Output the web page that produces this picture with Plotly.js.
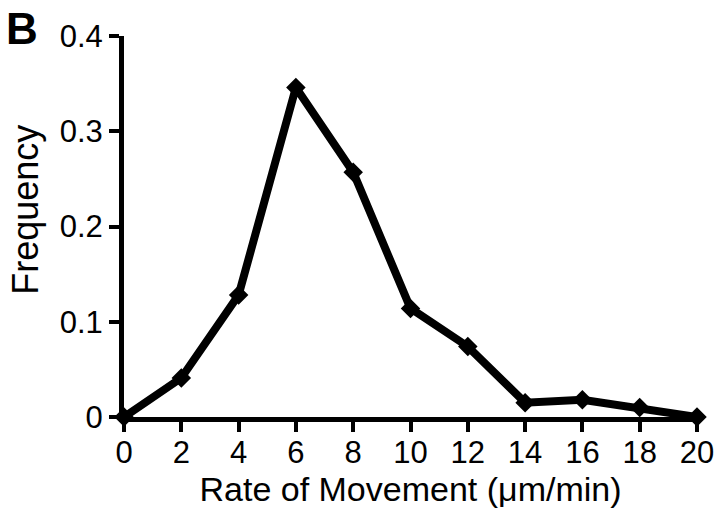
<!DOCTYPE html>
<html>
<head>
<meta charset="utf-8">
<script src="https://cdn.plot.ly/plotly-3.0.1.min.js"></script>
<style>html,body{margin:0;padding:0;background:#fff;}#chart{width:722px;height:512px;}</style>
</head>
<body>
<div id="chart"></div>
<script>
const rates = [0, 2, 4, 6, 8, 10, 12, 14, 16, 18, 20];
const frequency = [0, 0.041, 0.128, 0.346, 0.257, 0.114, 0.074, 0.015, 0.018, 0.010, 0];
const xTicks = [0, 2, 4, 6, 8, 10, 12, 14, 16, 18, 20];
const yTicks = [0, 0.1, 0.2, 0.3, 0.4];
const yTickText = ['0', '0.1', '0.2', '0.3', '0.4'];

const font = 'Liberation Sans, Arial, Helvetica, sans-serif';
const trace = {
  x: rates, y: frequency, type: 'scatter', mode: 'lines+markers',
  line: {color: '#000', width: 8},
  marker: {symbol: 'diamond', size: 15, color: '#000'},
  cliponaxis: false, hoverinfo: 'none'
};
const layout = {
  width: 722, height: 512,
  margin: {l: 124, r: 25, t: 36, b: 95},
  paper_bgcolor: '#fff', plot_bgcolor: '#fff',
  showlegend: false,
  font: {family: font, color: '#000'},
  xaxis: {
    range: [0, 20], tickvals: xTicks, ticktext: xTicks.map(String),
    showgrid: false, zeroline: false, showline: true, linewidth: 5, linecolor: '#000',
    ticks: 'outside', ticklen: 10, tickwidth: 4, tickcolor: '#000',
    ticklabelstandoff: -6,
    tickfont: {size: 31, family: font, color: '#000'},
    automargin: false,
    title: {text: 'Rate of Movement (μm/min)', font: {size: 34, family: font, color: '#000'}, standoff: 2}
  },
  yaxis: {
    range: [0, 0.4], tickvals: yTicks, ticktext: yTickText,
    showgrid: false, zeroline: false, showline: true, linewidth: 5, linecolor: '#000',
    ticks: 'outside', ticklen: 10, tickwidth: 4, tickcolor: '#000',
    tickfont: {size: 31, family: font, color: '#000'},
    automargin: false,
    title: {text: ''}
  },
  annotations: [{
    text: '<b>B</b>', xref: 'paper', yref: 'paper', x: -0.21, y: 1.09,
    xanchor: 'left', yanchor: 'top', showarrow: false,
    font: {size: 44, family: font, color: '#000'}
  }, {
    text: 'Frequency', xref: 'paper', yref: 'paper', x: -0.172, y: 0.545,
    xanchor: 'center', yanchor: 'middle', textangle: -90, showarrow: false,
    font: {size: 36, family: font, color: '#000'}
  }]
};
Plotly.newPlot('chart', [trace], layout, {displayModeBar: false, staticPlot: true});
</script>
</body>
</html>
